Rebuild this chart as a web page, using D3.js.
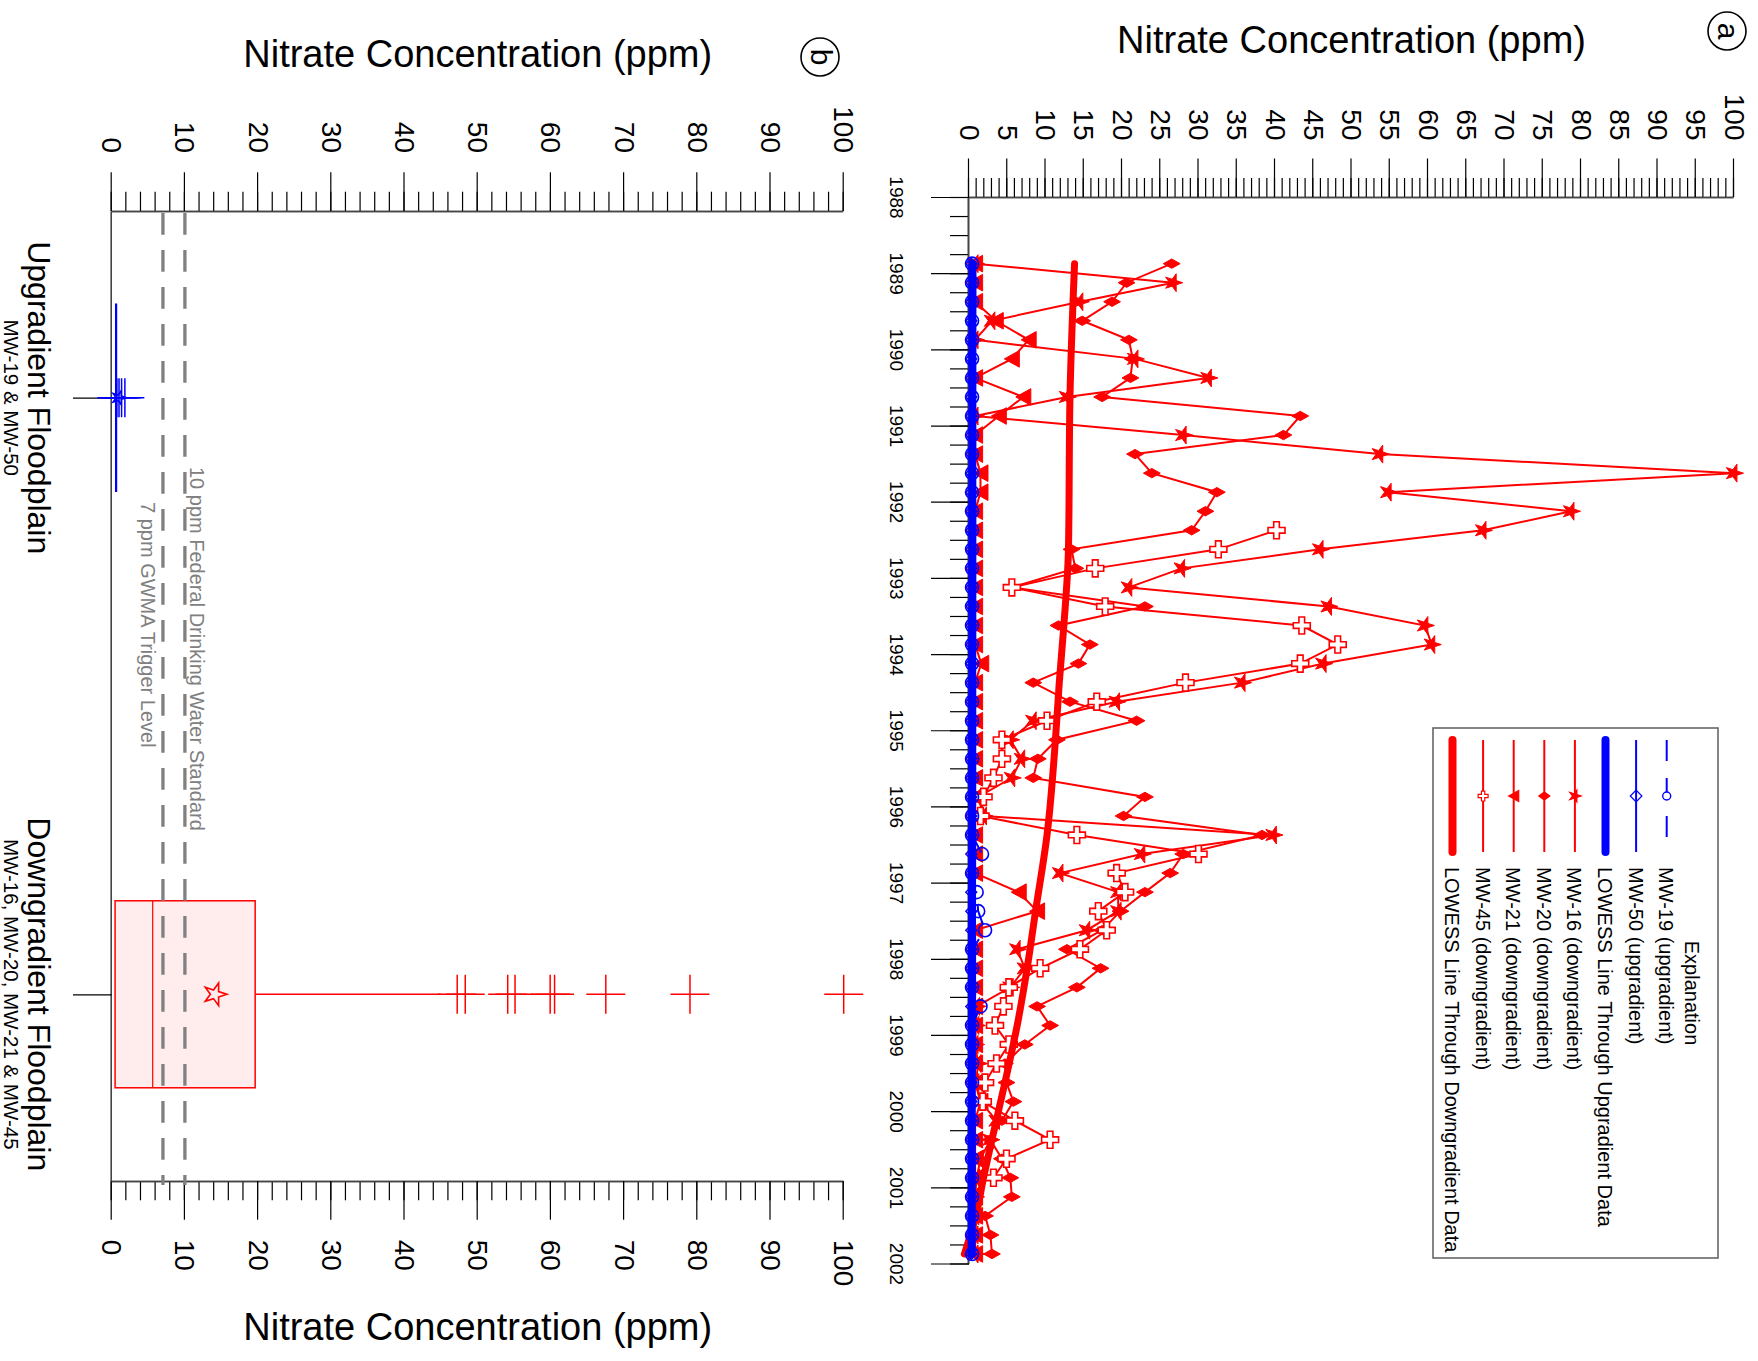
<!DOCTYPE html>
<html>
<head>
<meta charset="utf-8">
<script src="https://cdn.jsdelivr.net/npm/d3@7"></script>
<style>
  body { margin: 0; background: #fff; overflow: hidden; }
</style>
</head>
<body>
<div id="chart"></div>
<script>
// ---- data ----
var sampleDates = [1988.875, 1989.125, 1989.375, 1989.625, 1989.875, 1990.125, 1990.375, 1990.625, 1990.875,
  1991.125, 1991.375, 1991.625, 1991.875, 1992.125, 1992.375, 1992.625, 1992.875, 1993.125, 1993.375,
  1993.625, 1993.875, 1994.125, 1994.375, 1994.625, 1994.875, 1995.125, 1995.375, 1995.625, 1995.875,
  1996.125, 1996.375, 1996.625, 1996.875, 1997.125, 1997.375, 1997.625, 1997.875, 1998.125, 1998.375,
  1998.625, 1998.875, 1999.125, 1999.375, 1999.625, 1999.875, 2000.125, 2000.375, 2000.625, 2000.875,
  2001.125, 2001.375, 2001.625, 2001.875];

var mw19 = [0.4, 0.4, 0.4, 0.4, 0.4, 0.4, 0.4, 0.4, 0.4, 0.4, 0.4, 0.4, 0.4, 0.4, 0.4, 0.4, 0.4, 0.4, 0.4, 0.4,
  0.4, 0.4, 0.4, 0.4, 0.4, 0.4, 0.4, 0.4, 0.4, 0.4, 0.4, 1.7, 0.4, 1.0, 1.2, 2.1, 0.4, 0.4, 0.4, 1.5,
  0.4, 0.4, 0.4, 0.4, 0.4, 0.4, 0.4, 0.4, 0.4, 0.4, 0.4, 0.4, 0.4];
var mw50 = [0.3, 0.3, 0.3, 0.3, 0.3, 0.3, 0.3, 0.3, 0.3, 0.3, 0.3, 0.3, 0.3, 0.3, 0.3, 0.3, 0.3, 0.3, 0.3, 0.3,
  0.3, 0.3, 0.3, 0.3, 0.3, 0.3, 0.3, 0.3, 0.3, 0.3, 0.3, 0.3, 0.3, 0.3, 0.3, 0.3, 0.3, 0.3, 0.3, 0.3,
  0.3, 0.3, 0.3, 0.3, 0.3, 0.3, 0.3, 0.3, 0.3, 0.3, 0.3, 0.3, 0.3];
var mw16 = [0.8, 26.7, 14.5, 3.0, 0.8, 21.7, 31.3, 12.8, 0.8, 28.0,
  53.7, 100, 54.8, 78.7, 67.2, 45.9, 27.8, 20.9, 47.0, 59.6,
  60.5, 46.3, 35.7, 19.3, 8.4, 5.4, 6.9, 5.6, 1.2, 1.9,
  39.8, 22.6, 11.9, 19.5, 19.5, 15.4, 6.3, 7.3, 5.4, 1.0,
  0.9, 0.8, 1.2, 0.9, 1.5, 3.6, 2.8, 1.5, 1.0, 0.8,
  0.9, 0.8, 0.8];
var mw20 = [26.5, 20.6, 18.7, 14.8, 20.9, 21.4, 21.1, 17.4, 43.3, 41.1,
  21.7, 23.9, 32.4, 30.9, 29.1, 13.4, 13.9, 5.6, 23.0, 11.7,
  15.8, 14.3, 8.4, 13.2, 21.9, 11.5, 9.0, 8.4, 23.0, 20.2,
  38.3, 28.0, 26.3, 23.0, 19.8, 17.4, 12.8, 17.2, 14.1, 8.9,
  10.6, 7.3, 4.7, 4.9, 5.8, 4.3, 2.8, 4.3, 5.4, 5.6,
  2.1, 2.8, 3.0];
var mw21 = [0.8, 0.8, 0.8, 3.5, 7.8, 5.6, 0.8, 7.1, 3.9, 0.8,
  0.8, 1.5, 1.5, 0.8, 0.8, 0.8, 0.8, 0.8, 0.8, 0.8,
  0.8, 1.6, 0.8, 0.8, 0.8, 0.8, 0.8, 0.8, 0.8, 0.8,
  0.8, 0.8, 0.8, 6.5, 8.9, 0.8, 0.8, 0.8, 0.8, 0.8,
  0.8, 0.8, 0.8, 0.8, 1.5, 0.8, 0.8, 0.8, 0.8, 0.8,
  0.8, 0.8, 0.8];
var mw45 = [null, null, null, null, null, null, null, null, null, null, null, null, null, null,
  40.2, 32.6, 16.5, 5.6, 17.8, 43.5, 48.2, 43.3, 28.3, 16.7,
  10.2, 4.3, 4.3, 3.2, 1.9, 1.5, 14.1, 30.0, 19.3, 20.4,
  16.9, 18.0, 14.5, 9.3, 5.2, 4.5, 3.4, 5.2, 3.6, 2.1,
  1.8, 6.0, 10.6, 4.9, 3.2, null, null, null, null];

var lowessUpDates = [1988.875, 1995.0, 2001.875];
var lowessUpValues = [0.45, 0.42, 0.35];
var lowessDownDates = [1988.875, 1990.625, 1992.625, 1993.625, 1994.375, 1995.125, 1996.375, 1997.375,
  1998.125, 1998.875, 1999.625, 2000.375, 2000.875, 2001.375, 2001.875];
var lowessDownValues = [13.8, 13.2, 13.0, 12.4, 11.8, 11.3, 10.2, 8.7, 7.6, 6.3, 4.7, 3.0, 1.9, 0.9, -0.6];

var yearTicks = [1988, 1989, 1990, 1991, 1992, 1993, 1994, 1995, 1996, 1997, 1998, 1999, 2000, 2001, 2002];
var legendLabels = ["MW-19 (upgradient)", "MW-50 (upgradient)", "LOWESS Line Through Upgradient Data",
  "MW-16 (downgradient)", "MW-20 (downgradient)", "MW-21 (downgradient)", "MW-45 (downgradient)",
  "LOWESS Line Through Downgradient Data"];

// box plot (panel b)
var groupNames = ["Upgradient Floodplain", "Downgradient Floodplain"];
var groupWells = ["MW-19 & MW-50", "MW-16, MW-20, MW-21 & MW-45"];
var upBox = {q1: 0.55, median: 0.6, q3: 0.65, mean: 1.0, whiskerHigh: 0.65};
var downBox = {q1: 0.46, median: 5.6, q3: 19.6, mean: 14.1, whiskerHigh: 45};
var upOutliers = [0.7, 1.0, 1.35, 1.8];
var downOutliers = [47.2, 48.3, 54.1, 55.1, 59.9, 60.5, 67.5, 79.0, 100];
var thresholds = [7, 10];
var thresholdLabels = ["7 ppm GWMA Trigger Level", "10 ppm Federal Drinking Water Standard"];

// ---- drawing ----
var FONT = "'Liberation Sans', Arial, Helvetica, sans-serif";
var W = 1758, H = 1361;
var RED = "#ff0000", BLUE = "#0000ff", GREY = "#808080";

var svg = d3.select("#chart").append("svg")
  .attr("width", W)
  .attr("height", H)
  .style("font-family", FONT);

// the whole figure is drawn upright, then turned a quarter turn clockwise
var g = svg.append("g").attr("transform", "translate(" + W + ",0) rotate(90)");

function styleAxis(sel, fs) {
  sel.attr("font-family", null).attr("font-size", null);
  sel.select(".domain").attr("stroke", "#444").attr("stroke-width", 1.6);
  sel.selectAll(".tick line").attr("stroke", "#000").attr("stroke-width", 1.2);
  sel.selectAll(".tick text").attr("fill", "#000").style("font-size", fs + "px");
}

// ===== panel a =====
var xA = d3.scaleLinear().domain([1988, 2002]).range([197, 1263.5]);
var yA = d3.scaleLinear().domain([0, 100]).range([789, 24]);

g.append("g").attr("transform", "translate(197,0)")
  .call(d3.axisLeft(yA).tickValues(d3.range(0, 101, 1)).tickSize(19).tickSizeOuter(0).tickFormat(""))
  .call(styleAxis, 28);
g.append("g").attr("transform", "translate(197,0)")
  .call(d3.axisLeft(yA).tickValues(d3.range(0, 101, 5)).tickSize(38.5).tickPadding(18).tickSizeOuter(0))
  .call(styleAxis, 28);

g.append("g").attr("transform", "translate(0,789)")
  .call(d3.axisBottom(xA).tickValues(d3.range(1988, 2002.01, 0.25)).tickSize(19).tickSizeOuter(0).tickFormat(""))
  .call(styleAxis, 19);
g.append("g").attr("transform", "translate(0,789)")
  .call(d3.axisBottom(xA).tickValues(yearTicks).tickSize(38).tickPadding(28).tickSizeOuter(0).tickFormat(d3.format("d")))
  .call(styleAxis, 19);

g.append("text")
  .attr("transform", "translate(53," + yA(50) + ") rotate(-90)")
  .attr("text-anchor", "middle")
  .style("font-size", "38px")
  .text("Nitrate Concentration (ppm)");

function circledLetter(u, v, letter) {
  g.append("circle").attr("cx", u).attr("cy", v).attr("r", 19)
    .attr("fill", "none").attr("stroke", "#000").attr("stroke-width", 1.6);
  g.append("text").attr("x", u).attr("y", v + 9).attr("text-anchor", "middle")
    .style("font-size", "30px").text(letter);
}
circledLetter(31, 31, "a");

// marker shapes
var starPath = d3.symbol(d3.symbolStar).size(100)();
var starSmall = d3.symbol(d3.symbolStar).size(45)();
var crossPath = d3.symbol(d3.symbolCross).size(160)();
var crossSmall = d3.symbol(d3.symbolCross).size(55)();
function diamondPath(hw, hh) { return "M0," + (-hh) + "L" + hw + ",0L0," + hh + "L" + (-hw) + ",0Z"; }
function triPath(hw, hh) { return "M" + (-hw) + "," + (-hh) + "L" + hw + "," + (-hh) + "L0," + hh + "Z"; }

var lineA = d3.line()
  .defined(function(d) { return d[1] != null; })
  .x(function(d) { return xA(d[0]); })
  .y(function(d) { return yA(d[1]); });

function pairs(dates, vals) {
  return dates.map(function(d, i) { return [d, vals[i]]; });
}

var series = [
  {vals: mw16, color: RED, path: starPath, fill: RED},
  {vals: mw20, color: RED, path: diamondPath(4.7, 8.4), fill: RED},
  {vals: mw21, color: RED, path: triPath(8.3, 7.5), fill: RED},
  {vals: mw45, color: RED, path: crossPath, fill: "#fff"}
];

series.forEach(function(s) {
  var pts = pairs(sampleDates, s.vals);
  g.append("path").datum(pts)
    .attr("d", lineA).attr("fill", "none")
    .attr("stroke", s.color).attr("stroke-width", 2);
  g.selectAll(null).data(pts.filter(function(d) { return d[1] != null; }))
    .enter().append("path")
    .attr("d", s.path)
    .attr("transform", function(d) { return "translate(" + xA(d[0]) + "," + yA(d[1]) + ")"; })
    .attr("fill", s.fill)
    .attr("stroke", s.color)
    .attr("stroke-width", s.fill === "#fff" ? 1.6 : 1);
});

var smooth = d3.line().curve(d3.curveMonotoneX)
  .x(function(d) { return xA(d[0]); })
  .y(function(d) { return yA(d[1]); });

g.append("path").datum(pairs(lowessDownDates, lowessDownValues))
  .attr("d", smooth).attr("fill", "none")
  .attr("stroke", RED).attr("stroke-width", 7).attr("stroke-linecap", "round");

// upgradient wells
var p19 = pairs(sampleDates, mw19);
g.append("path").datum(p19).attr("d", lineA).attr("fill", "none")
  .attr("stroke", BLUE).attr("stroke-width", 2).attr("stroke-dasharray", "21,17");
g.selectAll(null).data(p19).enter().append("circle")
  .attr("cx", function(d) { return xA(d[0]); })
  .attr("cy", function(d) { return yA(d[1]); })
  .attr("r", 6.5).attr("fill", "none").attr("stroke", BLUE).attr("stroke-width", 1.6);

var p50 = pairs(sampleDates, mw50);
g.append("path").datum(p50).attr("d", lineA).attr("fill", "none")
  .attr("stroke", BLUE).attr("stroke-width", 2);
g.selectAll(null).data(p50).enter().append("path")
  .attr("d", diamondPath(5.5, 5.5))
  .attr("transform", function(d) { return "translate(" + xA(d[0]) + "," + yA(d[1]) + ")"; })
  .attr("fill", "none").attr("stroke", BLUE).attr("stroke-width", 1.4);

g.append("path").datum(pairs(lowessUpDates, lowessUpValues))
  .attr("d", smooth).attr("fill", "none")
  .attr("stroke", BLUE).attr("stroke-width", 8).attr("stroke-linecap", "round");

// legend
var legend = g.append("g");
legend.append("rect").attr("x", 728).attr("y", 40).attr("width", 530).attr("height", 285)
  .attr("fill", "#fff").attr("stroke", "#666").attr("stroke-width", 1.6);
legend.append("text").attr("x", 993).attr("y", 73).attr("text-anchor", "middle")
  .style("font-size", "20px").text("Explanation");

var legendStyle = [
  {color: BLUE, w: 2, dash: "21,17", mark: "circle"},
  {color: BLUE, w: 2, dash: null, mark: diamondPath(5.8, 5.8), fill: "none"},
  {color: BLUE, w: 8, dash: null, mark: null},
  {color: RED, w: 2, dash: null, mark: starSmall, fill: RED},
  {color: RED, w: 2, dash: null, mark: diamondPath(4, 5.5), fill: RED},
  {color: RED, w: 2, dash: null, mark: triPath(5.5, 5), fill: RED},
  {color: RED, w: 2, dash: null, mark: crossSmall, fill: "#fff"},
  {color: RED, w: 8, dash: null, mark: null}
];
legendLabels.forEach(function(lab, i) {
  var v = 91.3 + i * 30.6;
  var st = legendStyle[i];
  legend.append("line").attr("x1", 740).attr("x2", 852).attr("y1", v).attr("y2", v)
    .attr("stroke", st.color).attr("stroke-width", st.w)
    .attr("stroke-linecap", st.w > 4 ? "round" : "butt")
    .attr("stroke-dasharray", st.dash);
  if (st.mark === "circle") {
    legend.append("circle").attr("cx", 796).attr("cy", v).attr("r", 4)
      .attr("fill", "#fff").attr("stroke", st.color).attr("stroke-width", 1.4);
  } else if (st.mark) {
    legend.append("path").attr("d", st.mark).attr("transform", "translate(796," + v + ")")
      .attr("fill", st.fill).attr("stroke", st.color).attr("stroke-width", 1.2);
  }
  legend.append("text").attr("x", 867).attr("y", v + 7.5)
    .style("font-size", "20px").text(lab);
});

// ===== panel b =====
var xB = d3.scaleLinear().domain([0.687, 2.313]).range([211, 1181]);
var yB = d3.scaleLinear().domain([0, 100]).range([1646.3, 914.3]);

g.append("g").attr("transform", "translate(211,0)")
  .call(d3.axisLeft(yB).tickValues(d3.range(0, 101, 2)).tickSize(19.3).tickSizeOuter(0).tickFormat(""))
  .call(styleAxis, 28);
g.append("g").attr("transform", "translate(211,0)")
  .call(d3.axisLeft(yB).tickValues(d3.range(0, 101, 10)).tickSize(38.7).tickPadding(19.3).tickSizeOuter(0))
  .call(styleAxis, 28);
g.append("g").attr("transform", "translate(1181,0)")
  .call(d3.axisRight(yB).tickValues(d3.range(0, 101, 2)).tickSize(19.3).tickSizeOuter(0).tickFormat(""))
  .call(styleAxis, 28);
g.append("g").attr("transform", "translate(1181,0)")
  .call(d3.axisRight(yB).tickValues(d3.range(0, 101, 10)).tickSize(38.7).tickPadding(20).tickSizeOuter(0))
  .call(styleAxis, 28);
g.append("g").attr("transform", "translate(0," + yB(0) + ")")
  .call(d3.axisBottom(xB).tickValues([1, 2]).tickSize(38.7).tickSizeOuter(0).tickFormat(""))
  .call(styleAxis, 28);

g.append("text")
  .attr("transform", "translate(66.7," + yB(50) + ") rotate(-90)")
  .attr("text-anchor", "middle").style("font-size", "38px")
  .text("Nitrate Concentration (ppm)");
g.append("text")
  .attr("transform", "translate(1340," + yB(50) + ") rotate(-90)")
  .attr("text-anchor", "middle").style("font-size", "38px")
  .text("Nitrate Concentration (ppm)");
circledLetter(57, 938, "b");

// group labels
groupNames.forEach(function(name, i) {
  g.append("text").attr("x", xB(i + 1)).attr("y", 1730).attr("text-anchor", "middle")
    .style("font-size", "32px").text(name);
  g.append("text").attr("x", xB(i + 1)).attr("y", 1754).attr("text-anchor", "middle")
    .style("font-size", "20.5px").text(groupWells[i]);
});

// boxes
function drawBox(pos, b, color, fill) {
  var hw = 93.5, c = xB(pos);
  g.append("rect").attr("x", c - hw).attr("width", 2 * hw)
    .attr("y", yB(b.q3)).attr("height", yB(b.q1) - yB(b.q3))
    .attr("fill", fill).attr("stroke", color).attr("stroke-width", 1.5);
  g.append("line").attr("x1", c - hw).attr("x2", c + hw)
    .attr("y1", yB(b.median)).attr("y2", yB(b.median))
    .attr("stroke", color).attr("stroke-width", 1.2);
  g.append("line").attr("x1", c).attr("x2", c)
    .attr("y1", yB(b.q3)).attr("y2", yB(b.whiskerHigh))
    .attr("stroke", color).attr("stroke-width", 1.5);
}
function drawOutliers(pos, vals, color) {
  var c = xB(pos);
  vals.forEach(function(v) {
    g.append("line").attr("x1", c - 19.5).attr("x2", c + 19.5).attr("y1", yB(v)).attr("y2", yB(v))
      .attr("stroke", color).attr("stroke-width", 1.5);
    g.append("line").attr("x1", c).attr("x2", c).attr("y1", yB(v) - 19.5).attr("y2", yB(v) + 19.5)
      .attr("stroke", color).attr("stroke-width", 1.5);
  });
}
function drawMean(pos, v, color, size) {
  g.append("path").attr("d", d3.symbol(d3.symbolStar).size(size)())
    .attr("transform", "translate(" + xB(pos) + "," + yB(v) + ")")
    .attr("fill", "none").attr("stroke", color).attr("stroke-width", 1.6);
}

drawBox(1, upBox, BLUE, "none");
drawOutliers(1, upOutliers, BLUE);
drawMean(1, upBox.mean, BLUE, 60);

drawBox(2, downBox, RED, "#ffecec");
drawOutliers(2, downOutliers, RED);
drawMean(2, downBox.mean, RED, 160);

// guideline levels
thresholds.forEach(function(t, i) {
  g.append("line").attr("x1", 213).attr("x2", 1185).attr("y1", yB(t)).attr("y2", yB(t))
    .attr("stroke", GREY).attr("stroke-width", 3.3).attr("stroke-dasharray", "21.7,15.3");
});
g.append("text").attr("x", 502).attr("y", yB(7) + 22)
  .attr("fill", GREY).style("font-size", "20px").text(thresholdLabels[0]);
g.append("text").attr("x", 467).attr("y", yB(10) - 5.5)
  .attr("fill", GREY).style("font-size", "20px").text(thresholdLabels[1]);
</script>
</body>
</html>
